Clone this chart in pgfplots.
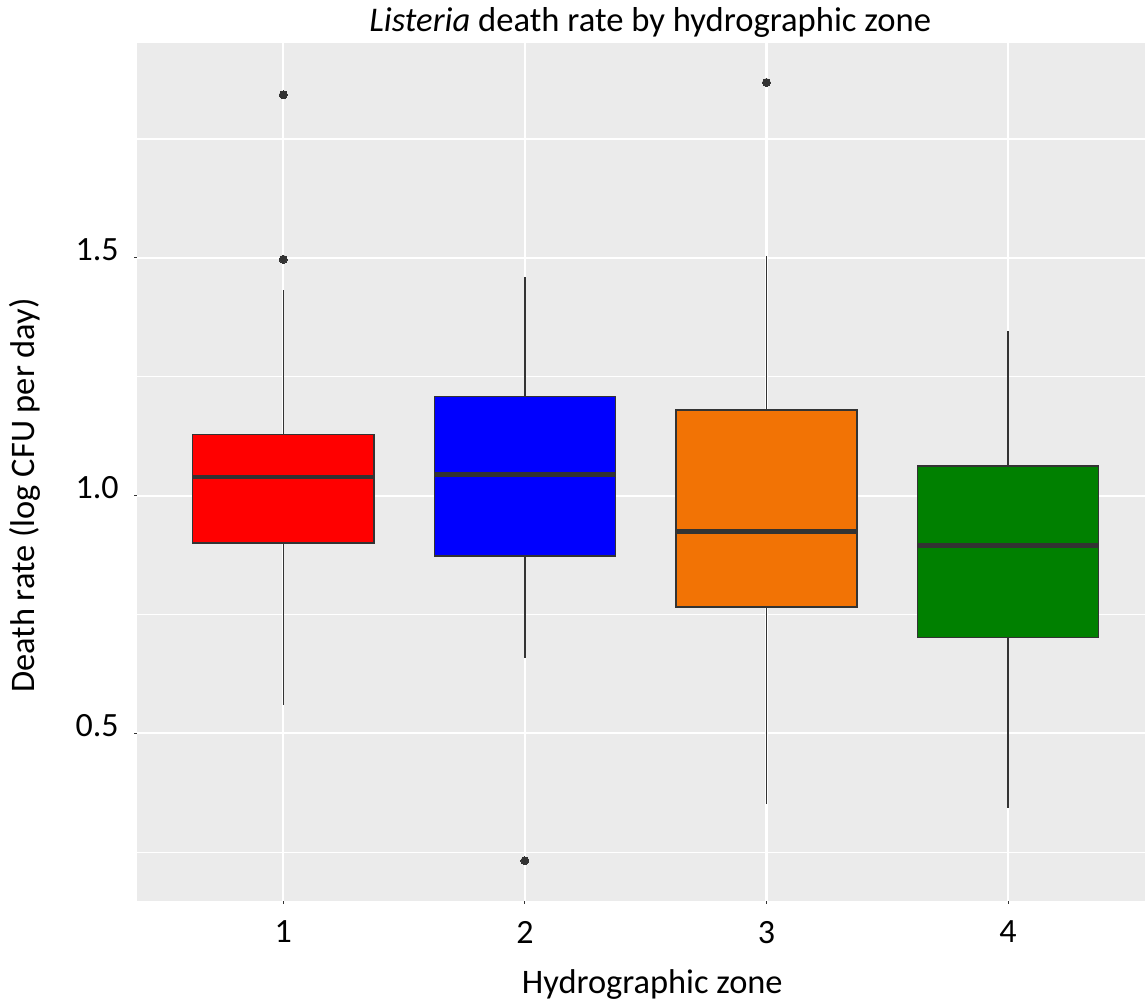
\documentclass[border=0pt]{standalone}
\usepackage{fontspec}
\setmainfont{Carlito}
\usepackage{pgfplots}
\pgfplotsset{compat=1.18}
\usepgfplotslibrary{statistics}
\usetikzlibrary{calc}
\definecolor{panel}{HTML}{EBEBEB}
\definecolor{g20}{HTML}{333333}
\definecolor{zorange}{HTML}{F27305}
\definecolor{zgreen}{HTML}{008000}
\begin{document}
\begin{tikzpicture}
\begin{axis}[
  scale only axis, width=503.85pt, height=429pt,
  xmin=0.3957, xmax=4.567, ymin=0.1474, ymax=1.952,
  axis background/.style={fill=panel},
  axis line style={draw=none},
  xtick={1,2,3,4}, xticklabels={1,2,3,4},
  ytick={0.5,1.0,1.5}, yticklabels={0.5,1.0,1.5},
  minor ytick={0.25,0.75,1.25,1.75},
  xmajorgrids, ymajorgrids, yminorgrids,
  major grid style={white, line width=1.1pt},
  minor grid style={white, line width=0.55pt},
  tick align=outside, major tick length=1.5pt, minor tick length=0pt,
  tick style={g20, line width=0.5pt},
  xtick pos=bottom, ytick pos=left,
  tick label style={font=\fontsize{17}{19}\selectfont, text=black},
  xticklabel style={anchor=north, inner sep=0pt, yshift=-8.35pt},
  yticklabel style={anchor=east, inner sep=0pt, xshift=-7.65pt, yshift=4pt},
  boxplot/draw direction=y,
  boxplot/every median/.style={line width=2.4pt},
]
\addplot[boxplot prepared={draw position=1, lower whisker=0.560, lower quartile=0.900, median=1.039, upper quartile=1.129, upper whisker=1.432, box extend=0.75, whisker extend=0}, draw=g20, line width=0.7pt, fill=red, mark=*, mark size=2pt, mark options={fill=g20, draw=g20, line width=0pt}] table[row sep=\\, y index=0] {data\\ 1.843\\ 1.497\\};
\addplot[boxplot prepared={draw position=2, lower whisker=0.659, lower quartile=0.873, median=1.045, upper quartile=1.209, upper whisker=1.459, box extend=0.75, whisker extend=0}, draw=g20, line width=0.7pt, fill=blue, mark=*, mark size=2pt, mark options={fill=g20, draw=g20, line width=0pt}] table[row sep=\\, y index=0] {data\\ 0.232\\};
\addplot[boxplot prepared={draw position=3, lower whisker=0.352, lower quartile=0.766, median=0.924, upper quartile=1.180, upper whisker=1.503, box extend=0.75, whisker extend=0}, draw=g20, line width=0.7pt, fill=zorange, mark=*, mark size=2pt, mark options={fill=g20, draw=g20, line width=0pt}] table[row sep=\\, y index=0] {data\\ 1.869\\};
\addplot[boxplot prepared={draw position=4, lower whisker=0.344, lower quartile=0.702, median=0.895, upper quartile=1.062, upper whisker=1.346, box extend=0.75, whisker extend=0}, draw=g20, line width=0.7pt, fill=zgreen] coordinates {};
\coordinate (SW) at (rel axis cs:0,0);
\coordinate (NE) at (rel axis cs:1,1);
\end{axis}
\node[anchor=base, rotate=90, font=\fontsize{17.2}{20}\selectfont] at ($(SW)+(-51.15pt,202.75pt)$) {Death rate (log CFU per day)};
\node[anchor=base, font=\fontsize{17.2}{20}\selectfont] at ($(SW)+(257.47pt,-46.15pt)$) {Hydrographic zone};
\node[anchor=base, font=\fontsize{17.3}{20}\selectfont] at ($(SW)+(256.46pt,434.65pt)$) {\textit{Listeria} death rate by hydrographic zone};
\pgfresetboundingbox
\path[use as bounding box] ($(SW)+(-68.65pt,-51pt)$) rectangle ($(NE)+(0pt,21.5pt)$);
\end{tikzpicture}
\end{document}
